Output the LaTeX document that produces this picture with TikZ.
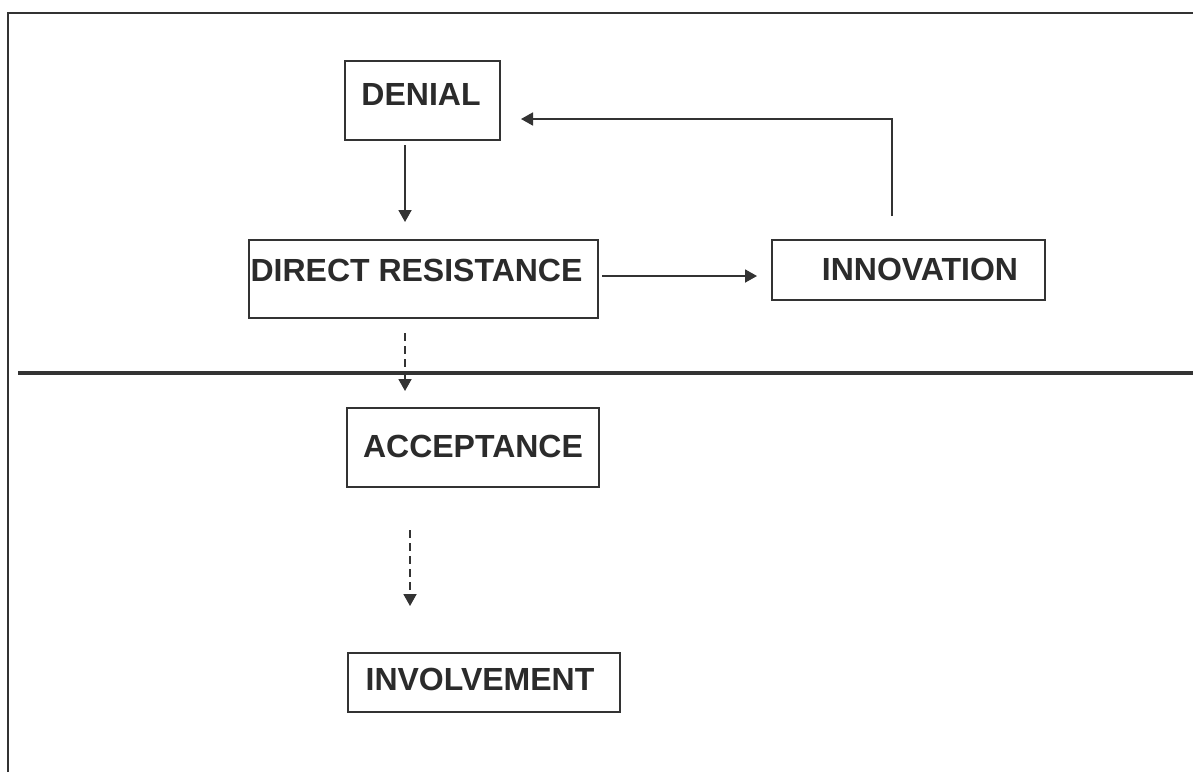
\documentclass[tikz,border=0pt]{standalone}
\usepackage{fontspec}
\setmainfont{Liberation Sans}
\usetikzlibrary{arrows.meta}
\definecolor{ink}{HTML}{333333}
\definecolor{txt}{HTML}{2B2B2B}
\tikzset{
  boxnode/.style={draw=ink, line width=2pt, rectangle, inner sep=0pt, anchor=center},
  lbl/.style={text=txt, font=\fontsize{32}{38}\selectfont\bfseries, inner sep=0pt, anchor=base},
  arr/.style={draw=ink, line width=1.8pt, -{Triangle[length=12pt,width=13pt]}},
  darr/.style={arr, dash pattern=on 8pt off 5pt},
}
\begin{document}
\begin{tikzpicture}[x=1pt,y=-1pt]
\useasboundingbox (0,0) rectangle (1193,772);
\fill[white] (0,0) rectangle (1193,772);
% frame and separator
\draw[ink, line width=2pt] (8,772) -- (8,13) -- (1193,13);
\draw[ink, line width=4.5pt] (18,373) -- (1193,373);
% boxes
\node[boxnode, minimum width=155pt, minimum height=79pt] (denial) at (422.5,100.5) {};
\node[boxnode, minimum width=349pt, minimum height=78pt] (dr) at (423.5,279) {};
\node[boxnode, minimum width=273pt, minimum height=60pt] (innov) at (908.5,270) {};
\node[boxnode, minimum width=252pt, minimum height=79pt] (acc) at (473,447.5) {};
\node[boxnode, minimum width=272pt, minimum height=59pt] (inv) at (484,682.5) {};
% labels
\node[lbl] (denialtxt) at (421,105) {DENIAL};
\node[lbl] (drtxt) at (416.5,281.5) {DIRECT RESISTANCE};
\node[lbl] (innovtxt) at (920,280) {INNOVATION};
\node[lbl] (acctxt) at (473,457) {ACCEPTANCE};
\node[lbl] (invtxt) at (480,690) {INVOLVEMENT};
% connectors
\draw[arr] ([xshift=-17.5pt,yshift=-4pt]denial.south) -- ([xshift=-18.5pt,yshift=17pt]dr.north);
\draw[arr] ([xshift=3pt,yshift=3pt]dr.east) -- ([xshift=-14pt,yshift=-6pt]innov.west);
\draw[arr] ([xshift=-16.5pt,yshift=23pt]innov.north) |- ([xshift=20pt,yshift=-18.5pt]denial.east);
\draw[darr] ([xshift=-18.5pt,yshift=-14pt]dr.south) -- ([xshift=-68pt,yshift=16pt]acc.north);
\draw[darr] ([xshift=-63pt,yshift=-42pt]acc.south) -- ([xshift=-74pt,yshift=46pt]inv.north);
\end{tikzpicture}
\end{document}
